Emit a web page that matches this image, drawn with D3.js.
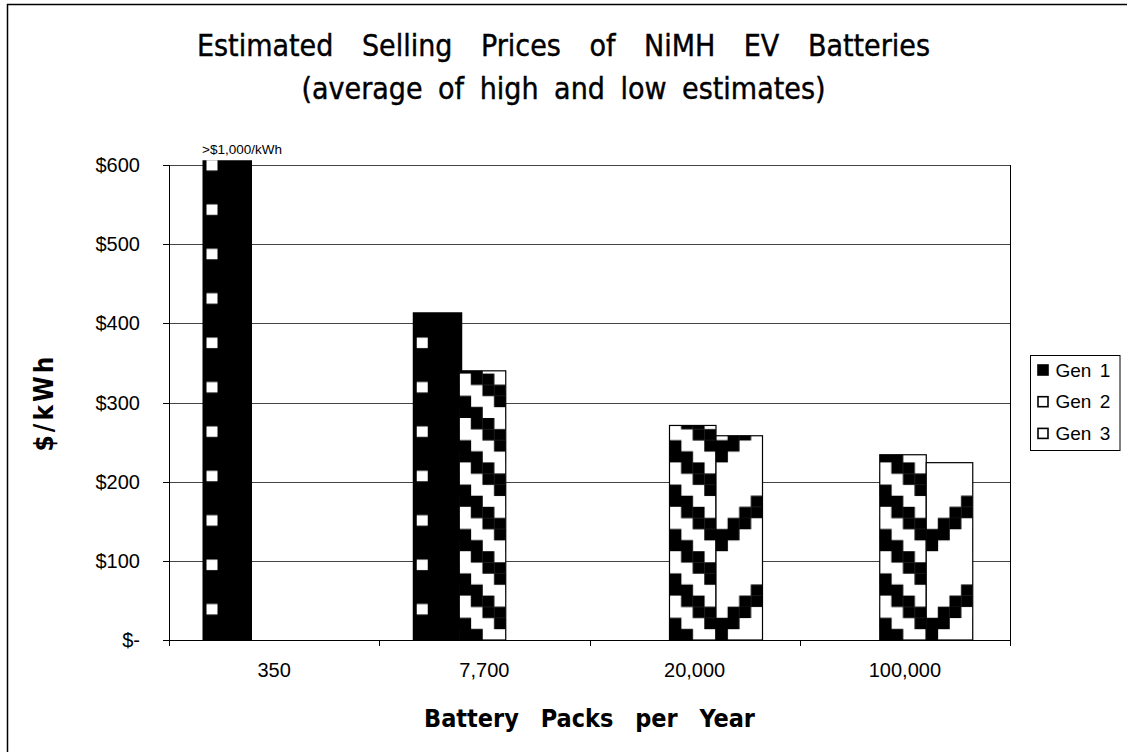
<!DOCTYPE html>
<html>
<head>
<meta charset="utf-8">
<script src="https://cdn.jsdelivr.net/npm/d3@7"></script>
<style>
  body { margin: 0; background: #fff; }
  svg { display: block; }
  text { font-family: "Liberation Sans", Arial, sans-serif; fill: #000; }
  .narrow { font-family: "DejaVu Sans Condensed", "Liberation Sans Narrow", "Liberation Sans", sans-serif; font-stretch: condensed; }
</style>
</head>
<body>
<svg id="chart"></svg>
<script>
// Datos del gráfico
const categories = ["350", "7,700", "20,000", "100,000"];
const seriesNames = ["Gen 1", "Gen 2", "Gen 3"];
const gen1 = [1000, 414, null, null];
const gen2 = [null, 340, 271, 234];
const gen3 = [null, null, 258, 224];
const yTicks = [0, 100, 200, 300, 400, 500, 600];
const yTickLabels = ["$-", "$100", "$200", "$300", "$400", "$500", "$600"];
const titleLines = ["Estimated Selling Prices of NiMH EV Batteries", "(average of high and low estimates)"];
const overLabel = ">$1,000/kWh";

const W = 1127, H = 752;
const plot = { left: 169, right: 1010, top: 165, bottom: 640 };
const yCap = 606; // las barras que pasan del máximo se cortan aquí

const svg = d3.select("#chart").attr("width", W).attr("height", H);

// Escalas
const x0 = d3.scaleBand().domain(categories).range([plot.left, plot.right]);
const x1 = d3.scaleBand().domain(seriesNames).range([33.5, 173]);
const y = d3.scaleLinear().domain([0, 600]).range([plot.bottom, plot.top]);

// Patrones de relleno (estilo Excel, celdas de ~11 px)
const cw = 11.6, ch = 11.1;
const defs = svg.append("defs");

const p1 = defs.append("pattern").attr("id", "pat0")
    .attr("patternUnits", "userSpaceOnUse").attr("width", 80).attr("height", ch * 4);
p1.append("rect").attr("width", 80).attr("height", ch * 4).attr("fill", "#000");
p1.append("rect").attr("x", 4).attr("y", 8.4).attr("width", 11).attr("height", 10.5).attr("fill", "#fff");

const p2 = defs.append("pattern").attr("id", "pat1")
    .attr("patternUnits", "userSpaceOnUse").attr("width", cw * 4).attr("height", ch * 4);
p2.append("rect").attr("width", cw * 4).attr("height", ch * 4).attr("fill", "#fff");
for (let j = 0; j < 4; j++) {
    const k = 3 - j;
    for (let c = 0; c < 4; c++) {
        if ((c + k) % 4 < 2) {
            p2.append("rect").attr("x", c * cw).attr("y", j * ch)
                .attr("width", cw + 0.3).attr("height", ch + 0.3).attr("fill", "#000");
        }
    }
}

const gen3Rows = [[0], [0, 1], [1, 2], [2, 3], [3], [], [], []];
const p3 = defs.append("pattern").attr("id", "pat2")
    .attr("patternUnits", "userSpaceOnUse").attr("width", cw * 4).attr("height", ch * 8);
p3.append("rect").attr("width", cw * 4).attr("height", ch * 8).attr("fill", "#fff");
for (let j = 0; j < 8; j++) {
    gen3Rows[7 - j].forEach(c => {
        p3.append("rect").attr("x", c * cw).attr("y", j * ch)
            .attr("width", cw + 0.3).attr("height", ch + 0.3).attr("fill", "#000");
    });
}

// Borde exterior
svg.append("path")
    .attr("d", `M7.5,${H} V4.5 H${W}`)
    .attr("fill", "none").attr("stroke", "#000").attr("stroke-width", 1.5);

// Título
const titleSpacing = [20, 7];
svg.selectAll(".title").data(titleLines).enter()
    .append("text").attr("class", "title narrow")
    .attr("x", W / 2).attr("y", (d, i) => 45 + i * 43)
    .attr("dy", "0.35em")
    .attr("text-anchor", "middle")
    .style("font-size", "30px")
    .style("word-spacing", (d, i) => titleSpacing[i] + "px")
    .style("stroke", "#000").style("stroke-width", 0.4)
    .text(d => d);

// Líneas de cuadrícula
svg.append("g").selectAll("line").data(yTicks.slice(1)).enter()
    .append("line")
    .attr("x1", plot.left).attr("x2", plot.right)
    .attr("y1", d => Math.round(y(d)) + 0.5).attr("y2", d => Math.round(y(d)) + 0.5)
    .attr("stroke", "#444").attr("stroke-width", 1);

// Barras
const seriesData = [gen1, gen2, gen3];
seriesData.forEach((vals, si) => {
    const bars = svg.append("g").selectAll("g")
        .data(categories.map((c, i) => ({ cat: c, v: vals[i] })).filter(d => d.v != null))
        .enter().append("g")
        .attr("transform", d => `translate(${x0(d.cat) + x1(seriesNames[si])},${plot.bottom})`);
    bars.append("rect")
        .attr("x", 0)
        .attr("y", d => y(Math.min(d.v, yCap)) - plot.bottom)
        .attr("width", si === 0 ? x1.bandwidth() + 3 : x1.bandwidth())
        .attr("height", d => plot.bottom - y(Math.min(d.v, yCap)))
        .attr("fill", `url(#pat${si})`)
        .attr("stroke", si === 0 ? "none" : "#000")
        .attr("stroke-width", 1.2);
});

// Borde del área del gráfico
svg.append("path")
    .attr("d", `M${plot.left + 0.5},${plot.top} V${plot.bottom + 0.5} H${plot.right + 0.5} V${plot.top}`)
    .attr("fill", "none").attr("stroke", "#000").attr("stroke-width", 1);

// Eje Y
const yAxisG = svg.append("g");
yAxisG.selectAll("line").data(yTicks).enter().append("line")
    .attr("x1", plot.left - 6).attr("x2", plot.left)
    .attr("y1", d => Math.round(y(d)) + 0.5).attr("y2", d => Math.round(y(d)) + 0.5)
    .attr("stroke", "#000");
yAxisG.selectAll("text").data(yTicks).enter().append("text")
    .attr("x", 140).attr("y", d => y(d)).attr("dy", "0.35em")
    .attr("text-anchor", "end")
    .style("font-size", "20px")
    .text((d, i) => yTickLabels[i]);

// Eje X
const xTicks = categories.map(c => x0(c)).concat([plot.right]);
svg.append("g").selectAll("line").data(xTicks).enter().append("line")
    .attr("x1", d => Math.round(d) + 0.5).attr("x2", d => Math.round(d) + 0.5)
    .attr("y1", plot.bottom).attr("y2", plot.bottom + 6)
    .attr("stroke", "#000");
svg.append("g").selectAll("text").data(categories).enter().append("text")
    .attr("x", d => x0(d) + x0.bandwidth() / 2).attr("y", 670).attr("dy", "0.35em")
    .attr("text-anchor", "middle")
    .style("font-size", "20px")
    .text(d => d);

// Títulos de ejes
svg.append("text").attr("class", "narrow")
    .attr("x", (plot.left + plot.right) / 2).attr("y", 718).attr("dy", "0.35em")
    .attr("text-anchor", "middle")
    .style("font-size", "25px").style("font-weight", "bold").style("word-spacing", "14px")
    .text("Battery Packs per Year");

svg.append("text").attr("class", "narrow")
    .attr("transform", `translate(44,${(plot.top + plot.bottom) / 2}) rotate(-90)`)
    .attr("dy", "0.35em")
    .attr("text-anchor", "middle")
    .style("font-size", "26px").style("font-weight", "bold").style("letter-spacing", "3px")
    .text("$/kWh");

// Etiqueta de barra cortada
svg.append("text")
    .attr("x", 202).attr("y", 149).attr("dy", "0.35em")
    .style("font-size", "13.5px")
    .text(overLabel);

// Leyenda
const legend = svg.append("g").attr("transform", "translate(1030.5,355.5)");
legend.append("rect").attr("width", 89.5).attr("height", 95)
    .attr("fill", "#fff").attr("stroke", "#000").attr("stroke-width", 1);
const items = legend.selectAll(".item").data(seriesNames).enter().append("g")
    .attr("transform", (d, i) => `translate(0,${14.5 + i * 31.7})`);
items.append("rect")
    .attr("x", 7.5).attr("y", -5).attr("width", 10).attr("height", 10)
    .attr("fill", (d, i) => i === 0 ? "#000" : "#fff")
    .attr("stroke", "#000").attr("stroke-width", 1.6);
items.append("text")
    .attr("x", 25).attr("dy", "0.35em")
    .style("font-size", "19px").style("word-spacing", "3px")
    .text(d => d);
</script>
</body>
</html>
